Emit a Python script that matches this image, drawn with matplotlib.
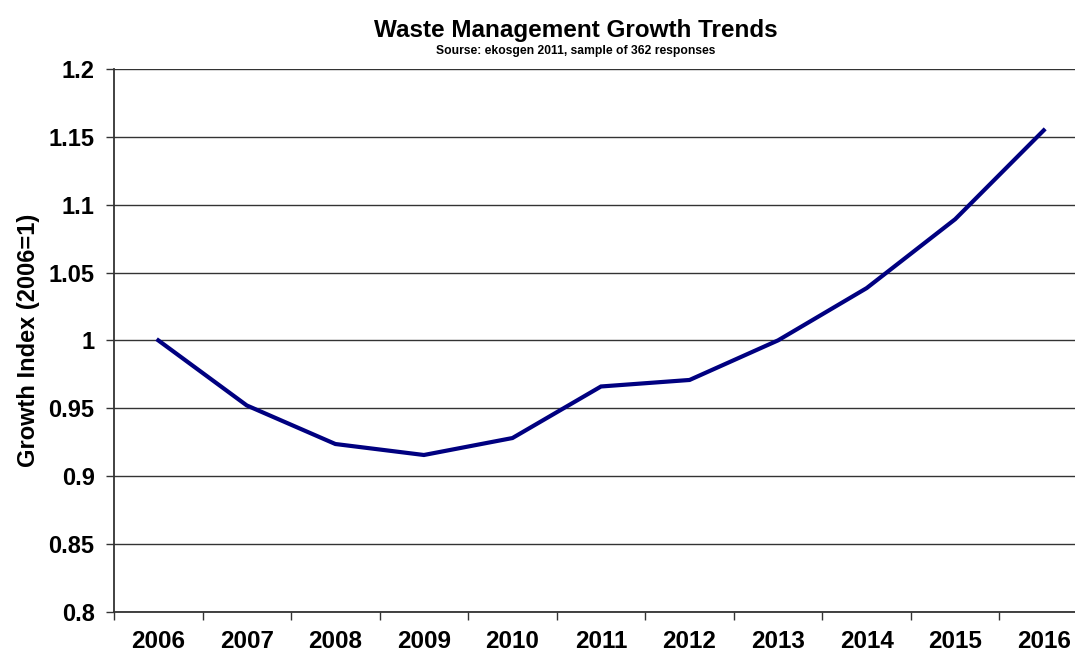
import matplotlib
matplotlib.use("Agg")
import matplotlib.pyplot as plt
import numpy as np

years = ["2006", "2007", "2008", "2009", "2010", "2011",
         "2012", "2013", "2014", "2015", "2016"]
growth_index = [1.000, 0.952, 0.9236, 0.9155, 0.928, 0.966,
                0.9708, 1.000, 1.0385, 1.0893, 1.1548]
y_ticks = [0.8, 0.85, 0.9, 0.95, 1.0, 1.05, 1.1, 1.15, 1.2]
y_tick_labels = ["0.8", "0.85", "0.9", "0.95", "1", "1.05", "1.1", "1.15", "1.2"]

plt.rcParams["font.family"] = ["Liberation Sans", "DejaVu Sans"]

W, H = 1075, 657
fig = plt.figure(figsize=(W / 100, H / 100), dpi=100)
left, right, top, bottom = 114, 1088, 69, 611.7
ax = fig.add_axes([left / W, 1 - bottom / H, (right - left) / W, (bottom - top) / H])

x = np.arange(len(years))
ax.plot(x, growth_index, color="#000080", linewidth=3.0, solid_joinstyle="miter",
        zorder=3, clip_on=False)

ax.set_xlim(-0.5, len(years) - 0.5)
ax.set_ylim(0.8, 1.2)

ax.set_yticks(y_ticks)
ax.set_yticklabels(y_tick_labels, fontsize=17, fontweight="bold")
ax.yaxis.grid(True, color="#333333", linewidth=1.0)
ax.set_axisbelow(True)

ax.set_xticks(x)
ax.set_xticklabels(years, fontsize=17.5, fontweight="bold")
ax.set_xticks(np.arange(-0.5, len(years) - 0.5, 1.0), minor=True)
ax.tick_params(axis="x", which="major", length=0, pad=13)
ax.tick_params(axis="x", which="minor", length=6, width=1.0, color="#333333")
ax.tick_params(axis="y", length=6, width=1.0, color="#333333", pad=8)

for side in ("top", "right"):
    ax.spines[side].set_visible(False)
for side in ("left", "bottom"):
    ax.spines[side].set_color("#333333")
    ax.spines[side].set_linewidth(1.3)

ax.set_ylabel("Growth Index (2006=1)", fontsize=17, fontweight="bold", labelpad=6)

fig.text(576 / W, 1 - 30 / H, "Waste Management Growth Trends",
         ha="center", va="center", fontsize=17.5, fontweight="bold")
fig.text(576 / W, 1 - 51 / H, "Sourse: ekosgen 2011, sample of 362 responses",
         ha="center", va="center", fontsize=8.7, fontweight="bold")

fig.savefig("out.png", dpi=100)
